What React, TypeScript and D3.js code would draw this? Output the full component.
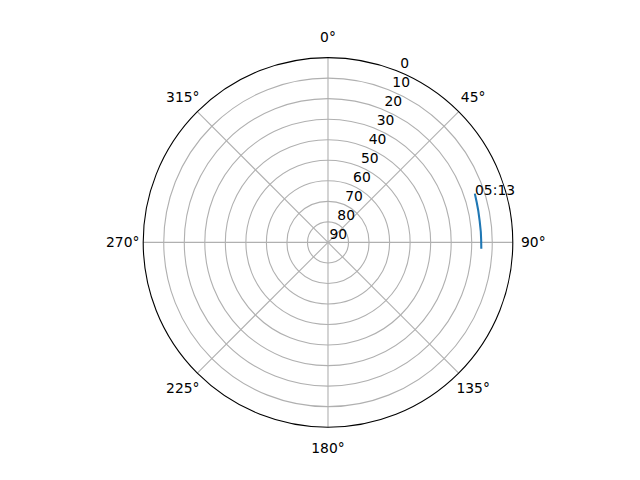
import React from 'react';
import * as d3 from 'd3';

// pass track: azimuth (deg, clockwise from north) and elevation (deg)
const azimuth = [72, 75, 78, 82, 86, 89, 92];
const elevation = [14.7, 15.0, 15.2, 15.4, 15.4, 15.4, 15.3];
const passLabel = '05:13';

const thetaTicks = [0, 45, 90, 135, 180, 225, 270, 315];
const rTicks = [0, 10, 20, 30, 40, 50, 60, 70, 80, 90];

const W = 640;
const H = 480;
const cx = 328;
const cy = 242.4;
const R = 184.8;
const font = 'DejaVu Sans, sans-serif';
const fontSize = 13.89;

const App: React.FC = () => {
  // elevation 90 at the centre, 0 on the rim
  const r = d3.scaleLinear().domain([90, 0]).range([0, R]);
  const toRad = (deg: number) => (deg * Math.PI) / 180;
  const px = (az: number, el: number) => cx + r(el) * Math.sin(toRad(az));
  const py = (az: number, el: number) => cy - r(el) * Math.cos(toRad(az));

  const pts = azimuth.map((a, i) => ({ a, e: elevation[i] }));
  const line = d3
    .lineRadial<{ a: number; e: number }>()
    .angle(d => toRad(d.a))
    .radius(d => r(d.e));

  const labelR = R + 20.5;

  return (
    <svg
      width={W}
      height={H}
      style={{ position: 'absolute', left: 0, top: 0, background: '#fff' }}
      fontFamily={font}
      fontSize={fontSize}
    >
      <rect width={W} height={H} fill="#fff" />
      {/* ring grid */}
      {rTicks
        .filter(t => t !== 0 && t !== 90)
        .map(t => (
          <circle key={t} cx={cx} cy={cy} r={r(t)} fill="none" stroke="#b0b0b0" strokeWidth={1.1} />
        ))}
      {/* spokes */}
      {thetaTicks.map(t => (
        <line
          key={t}
          x1={cx}
          y1={cy}
          x2={px(t, 0)}
          y2={py(t, 0)}
          stroke="#b0b0b0"
          strokeWidth={1.1}
        />
      ))}
      {/* outer spine */}
      <circle cx={cx} cy={cy} r={R} fill="none" stroke="#000" strokeWidth={1.1} />

      {/* track */}
      <path
        d={line(pts) || ''}
        transform={`translate(${cx},${cy})`}
        fill="none"
        stroke="#1f77b4"
        strokeWidth={2.08}
        strokeLinecap="square"
      />
      <text x={px(pts[0].a, pts[0].e)} y={py(pts[0].a, pts[0].e)}>
        {passLabel}
      </text>

      {/* theta labels */}
      {thetaTicks.map(t => (
        <text
          key={t}
          x={cx + labelR * Math.sin(toRad(t))}
          y={cy - labelR * Math.cos(toRad(t)) + 5}
          textAnchor="middle"
        >
          {`${t}°`}
        </text>
      ))}

      {/* radial labels along 22.5° */}
      {rTicks.map(t => (
        <text key={t} x={px(22.5, t) + 1.5} y={py(22.5, t) - 3.3}>
          {t}
        </text>
      ))}
    </svg>
  );
};

export default App;
